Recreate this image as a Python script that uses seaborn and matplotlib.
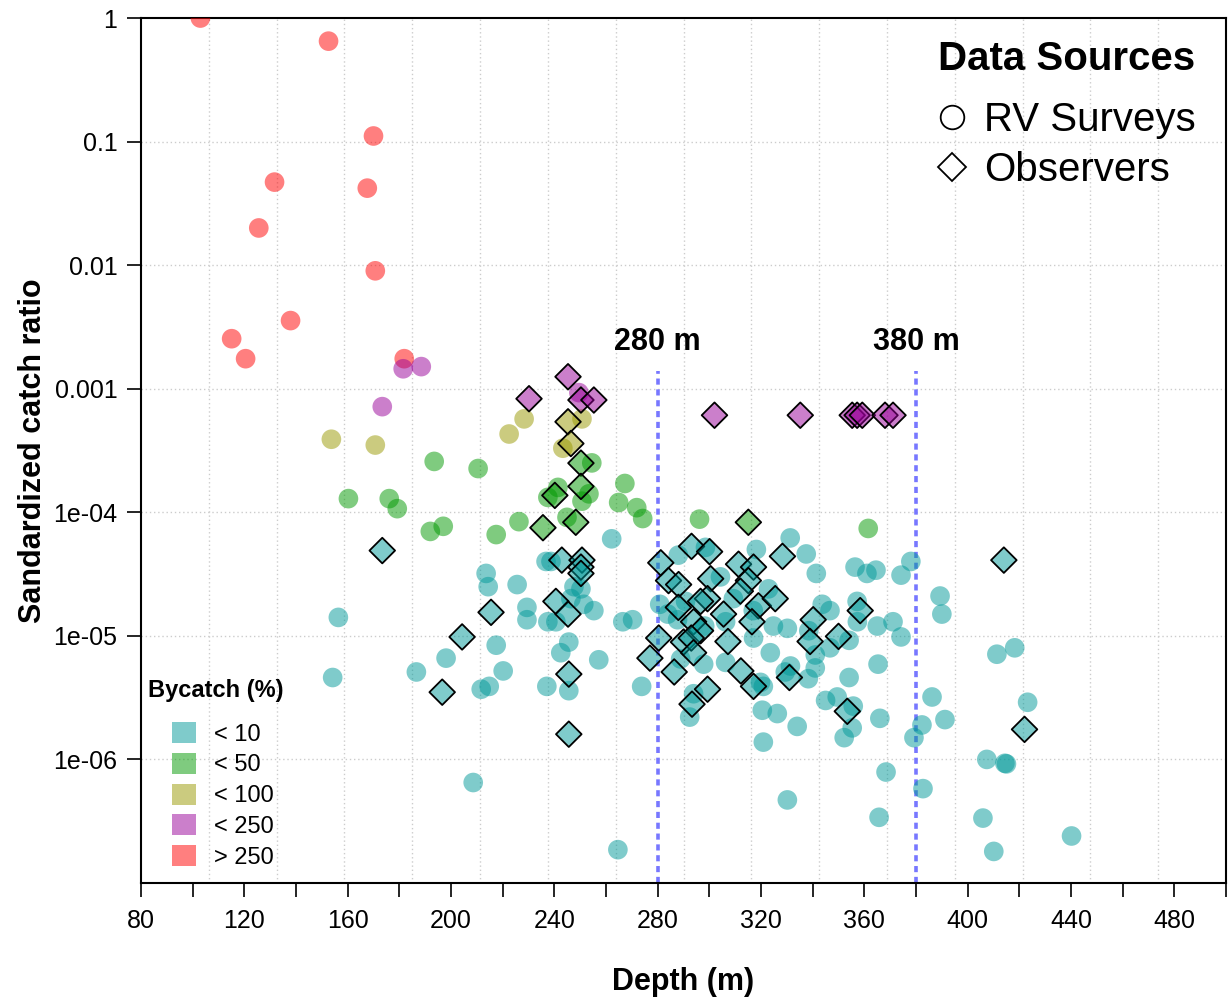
import numpy as np
import pandas as pd
import matplotlib
matplotlib.use('Agg')
import matplotlib.pyplot as plt
import seaborn as sns
from matplotlib.lines import Line2D
from matplotlib.patches import Patch
from matplotlib.ticker import FixedLocator, FixedFormatter

# ---- data (depth in m, standardized catch ratio) ----
# RV survey tows (circles)
rv_gt250_depth = [103, 152.6, 170, 131.7, 167.6, 125.6, 170.7, 137.9, 115.1, 120.5, 181.9]
rv_gt250_ratio = [1.0, 0.65, 0.111, 0.047, 0.042, 0.020, 0.0090, 0.00356, 0.00254, 0.00175, 0.00175]

rv_lt250_depth = [181.5, 188.5, 173.4, 249.5]
rv_lt250_ratio = [0.00145, 0.00151, 0.000716, 0.00093]

rv_lt100_depth = [153.7, 170.7, 228.3, 222.5, 250.7, 243.3]
rv_lt100_ratio = [0.00039, 0.00035, 0.00057, 0.00043, 0.00057, 0.00033]

rv_lt50_depth = [193.5, 160.3, 176.1, 179.2, 192, 197, 210.5, 254.5, 241.4, 237.5, 253.4,
                 250.7, 267.3, 264.9, 271.9, 274.2, 226.3, 217.5, 244.9, 296.2, 361.5]
rv_lt50_ratio = [2.58e-4, 1.29e-4, 1.29e-4, 1.07e-4, 7.0e-5, 7.7e-5, 2.26e-4, 2.51e-4, 1.59e-4, 1.32e-4, 1.41e-4,
                 1.23e-4, 1.71e-4, 1.2e-4, 1.09e-4, 8.9e-5, 8.4e-5, 6.6e-5, 9.1e-5, 8.8e-5, 7.4e-5]

rv_lt10_depth = [156.4, 154.2, 186.6, 198.1, 217.5, 220.2, 211.7, 214.8, 208.6, 264.6,
                 262.2, 238.7, 236.8, 213.6, 214.4, 225.6, 229.4, 229.4, 237.5, 240.6,
                 247.6, 250.3, 246.4, 251.4, 255.3, 266.5, 270.3, 280.8, 245.6, 242.5,
                 257.2, 237.1, 245.6, 273.8, 293.9, 292.4, 297.8, 306.3, 288.9, 287.7,
                 288.0, 298.5, 318.2, 304.3, 283.9, 290.8, 306.3, 309.3, 317.0, 322.9,
                 324.8, 298.2, 320.5, 326.3, 320.9, 319.8, 323.6, 331.3, 337.5, 341.4,
                 356.4, 361.0, 364.5, 374.2, 378.0, 389.3, 390.0, 357.2, 343.7, 346.7,
                 357.3, 365.0, 371.1, 374.2, 330.2, 338.5, 317.1, 354.1, 346.7, 341.0,
                 329.4, 331.4, 341.0, 338.3, 354.1, 345.0, 349.5, 355.7, 366.0, 365.3,
                 334.0, 355.3, 352.2, 320.9, 330.2, 368.4, 365.7, 386.2, 391.2, 382.3,
                 379.2, 382.7, 411.3, 418.2, 423.2, 407.4, 414.4, 415.0, 405.9, 410.1,
                 440.2]
rv_lt10_ratio = [1.41e-5, 4.6e-6, 5.1e-6, 6.6e-6, 8.4e-6, 5.2e-6, 3.7e-6, 3.9e-6, 6.5e-7, 1.86e-7,
                 6.1e-5, 4.0e-5, 4.0e-5, 3.2e-5, 2.5e-5, 2.6e-5, 1.7e-5, 1.35e-5, 1.3e-5, 1.3e-5,
                 2.5e-5, 2.4e-5, 2.0e-5, 1.8e-5, 1.6e-5, 1.3e-5, 1.35e-5, 1.8e-5, 8.9e-6, 7.3e-6,
                 6.4e-6, 3.9e-6, 3.6e-6, 3.9e-6, 3.4e-6, 2.2e-6, 5.9e-6, 6.1e-6, 6.5e-6, 1.35e-5,
                 4.5e-5, 5.2e-5, 5.0e-5, 3.0e-5, 1.5e-5, 1.9e-5, 1.3e-5, 2.0e-5, 1.6e-5, 2.4e-5,
                 1.2e-5, 1.2e-5, 2.5e-6, 2.35e-6, 3.9e-6, 4.2e-6, 7.3e-6, 6.2e-5, 4.6e-5, 3.2e-5,
                 3.6e-5, 3.2e-5, 3.4e-5, 3.1e-5, 4.0e-5, 2.1e-5, 1.5e-5, 1.9e-5, 1.8e-5, 1.6e-5,
                 1.3e-5, 1.2e-5, 1.3e-5, 9.8e-6, 1.15e-5, 1.1e-5, 9.6e-6, 9.2e-6, 8.0e-6, 7.0e-6,
                 5.1e-6, 5.7e-6, 5.5e-6, 4.5e-6, 4.6e-6, 3.0e-6, 3.2e-6, 2.7e-6, 2.15e-6, 5.9e-6,
                 1.85e-6, 1.8e-6, 1.5e-6, 1.38e-6, 4.7e-7, 7.9e-7, 3.4e-7, 3.2e-6, 2.1e-6, 1.9e-6,
                 1.5e-6, 5.8e-7, 7.1e-6, 8.0e-6, 2.9e-6, 1.0e-6, 9.3e-7, 9.2e-7, 3.35e-7, 1.8e-7,
                 2.4e-7]

# Observer trips (diamonds)
obs_lt250_depth = [245.3, 230.2, 250.3, 255.3, 302, 335.2, 355.3, 357.2, 359.2, 368, 371.1]
obs_lt250_ratio = [0.00125, 0.00083, 0.00081, 0.00081, 0.00061, 0.00061, 0.00061, 0.00061, 0.00061, 0.00061, 0.00061]

obs_lt100_depth = [245.3, 246.4]
obs_lt100_ratio = [0.00054, 0.00036]

obs_lt50_depth = [250.3, 250.3, 240.2, 248.3, 235.6, 315.1]
obs_lt50_ratio = [2.5e-4, 1.62e-4, 1.37e-4, 8.3e-5, 7.5e-5, 8.3e-5]

obs_lt10_depth = [173.4, 204.3, 196.6, 215.5, 242.9, 250.7, 250.3, 250.3, 240.6, 245.3,
                  245.6, 245.6, 281.2, 293.1, 300.1, 284.2, 288.1, 300.5, 288.0, 299.3,
                  296.6, 305.5, 311.3, 317.1, 315.1, 312.0, 319.0, 325.5, 316.5, 293.9,
                  296.6, 280.4, 290.0, 293.0, 293.9, 307.2, 277.0, 286.4, 312.2, 317.1,
                  299.3, 293.3, 328.3, 340.2, 339.0, 350.0, 358.4, 331.0, 353.4, 414.0,
                  422.0]
obs_lt10_ratio = [4.9e-5, 9.8e-6, 3.5e-6, 1.55e-5, 4.1e-5, 4.1e-5, 3.6e-5, 3.2e-5, 1.9e-5, 1.5e-5,
                  4.9e-6, 1.6e-6, 3.9e-5, 5.3e-5, 4.8e-5, 2.8e-5, 2.6e-5, 2.9e-5, 1.7e-5, 2.0e-5,
                  1.9e-5, 1.5e-5, 3.8e-5, 3.6e-5, 2.8e-5, 2.3e-5, 1.75e-5, 2.0e-5, 1.3e-5, 1.3e-5,
                  1.1e-5, 9.6e-6, 8.9e-6, 9.6e-6, 7.3e-6, 9.0e-6, 6.6e-6, 5.1e-6, 5.2e-6, 3.9e-6,
                  3.7e-6, 2.8e-6, 4.4e-5, 1.35e-5, 9.0e-6, 9.9e-6, 1.6e-5, 4.6e-6, 2.45e-6, 4.1e-5,
                  1.75e-6]

bycatch_classes = ['< 10', '< 50', '< 100', '< 250', '> 250']
bycatch_colors = ['#009999', '#009900', '#999900', '#990099', '#FF0000']
depth_refs = [280, 380]

x_ticks = [80, 120, 160, 200, 240, 280, 320, 360, 400, 440, 480]
y_ticks = [1, 0.1, 0.01, 0.001, 1e-4, 1e-5, 1e-6]
y_tick_labels = ['1', '0.1', '0.01', '0.001', '1e-04', '1e-05', '1e-06']

# ---- tidy frames ----
def block(depth, ratio, cls, src):
    return pd.DataFrame({'depth': depth, 'ratio': ratio, 'bycatch': cls, 'source': src})

rv = pd.concat([
    block(rv_lt10_depth, rv_lt10_ratio, '< 10', 'RV Surveys'),
    block(rv_lt50_depth, rv_lt50_ratio, '< 50', 'RV Surveys'),
    block(rv_lt100_depth, rv_lt100_ratio, '< 100', 'RV Surveys'),
    block(rv_gt250_depth, rv_gt250_ratio, '> 250', 'RV Surveys'),
    block(rv_lt250_depth, rv_lt250_ratio, '< 250', 'RV Surveys'),
], ignore_index=True)
obs = pd.concat([
    block(obs_lt10_depth, obs_lt10_ratio, '< 10', 'Observers'),
    block(obs_lt50_depth, obs_lt50_ratio, '< 50', 'Observers'),
    block(obs_lt100_depth, obs_lt100_ratio, '< 100', 'Observers'),
    block(obs_lt250_depth, obs_lt250_ratio, '< 250', 'Observers'),
], ignore_index=True)

alpha_cols = {c: matplotlib.colors.to_rgba(col, 0.5) for c, col in zip(bycatch_classes, bycatch_colors)}

sns.set_style('white')
plt.rcParams['font.family'] = ['Liberation Sans', 'DejaVu Sans']
plt.rcParams['text.color'] = 'black'
plt.rcParams['axes.labelcolor'] = 'black'

fig = plt.figure(figsize=(12.28, 10.02), dpi=100)
ax = fig.add_axes([0.1148, 0.1188, 0.8836, 0.8632])

sns.scatterplot(data=rv, x='depth', y='ratio', hue='bycatch', palette=alpha_cols,
                marker='o', s=200, linewidth=0, legend=False, ax=ax, zorder=3)
sns.scatterplot(data=obs, x='depth', y='ratio', hue='bycatch', palette=alpha_cols,
                marker='D', s=170, edgecolor='black', linewidth=1.3, legend=False, ax=ax, zorder=4)

ax.set_yscale('log')
ax.set_xlim(80, 500)
ax.set_ylim(1e-7, 1)

# grid like R's grid(): 16 equal x-divisions, decades on y
for gx in np.linspace(80, 500, 17)[1:-1]:
    ax.axvline(gx, color='#cccccc', lw=1, ls=(0, (1, 2)), zorder=0)
for gy in y_ticks[1:]:
    ax.axhline(gy, color='#cccccc', lw=1, ls=(0, (1, 2)), zorder=0)

ax.xaxis.set_major_locator(FixedLocator(x_ticks))
ax.xaxis.set_minor_locator(FixedLocator(np.arange(80, 501, 20)))
ax.yaxis.set_major_locator(FixedLocator(y_ticks))
ax.yaxis.set_major_formatter(FixedFormatter(y_tick_labels))
ax.yaxis.set_minor_locator(FixedLocator([]))
ax.tick_params(axis='both', which='both', direction='out', length=10, width=1.2,
               labelsize=18, colors='black', bottom=True, left=True)
ax.tick_params(axis='x', pad=9)
ax.tick_params(axis='y', pad=7)
for sp in ax.spines.values():
    sp.set_color('black')
    sp.set_linewidth(1.5)

# reference depths
for d in depth_refs:
    ax.vlines(d, 1e-7, 0.0014, colors='#7777ff', lw=2.6, ls=(0, (1.7, 1.3)), zorder=2)
    ax.text(d, 0.0024, f'{d} m', ha='center', va='center', fontsize=22, fontweight='bold')

ax.set_xlabel('Depth (m)', fontsize=22, fontweight='bold', labelpad=24)
ax.set_ylabel('Sandardized catch ratio', fontsize=22, fontweight='bold', labelpad=4)

# legends
src_handles = [Line2D([], [], marker='o', ls='none', mfc='white', mec='black', ms=17, mew=1.3),
               Line2D([], [], marker='D', ls='none', mfc='white', mec='black', ms=14, mew=1.3)]
leg1 = ax.legend(src_handles, ['RV Surveys', 'Observers'], title='Data Sources',
                 loc='upper right', bbox_to_anchor=(0.9945, 1.003), frameon=False,
                 fontsize=29, title_fontproperties={'weight': 'bold', 'size': 29},
                 handlelength=0.7, handletextpad=0.45, labelspacing=0.3, borderaxespad=0.2,
                 alignment='left')
leg1._legend_box.sep = 17
ax.add_artist(leg1)

ax.text(0.0065, 0.223, 'Bycatch (%)', transform=ax.transAxes, ha='left', va='center',
        fontsize=17, fontweight='bold')
by_handles = [Patch(facecolor=alpha_cols[c], edgecolor='none') for c in bycatch_classes]
ax.legend(by_handles, bycatch_classes, loc='lower left',
          bbox_to_anchor=(0.009, -0.008), frameon=False, fontsize=17,
          handlelength=1.0, handleheight=1.0, handletextpad=0.8, labelspacing=0.3)

plt.savefig('out.png', dpi=100)
